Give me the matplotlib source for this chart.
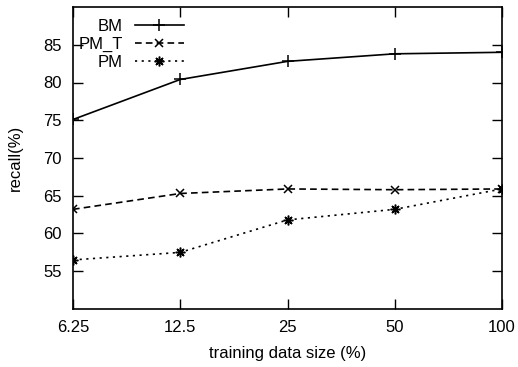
import matplotlib.pyplot as plt

plt.rcParams['font.family'] = ['Liberation Sans', 'DejaVu Sans']

sizes = ['6.25', '12.5', '25', '50', '100']
bm = [75.1, 80.4, 82.8, 83.8, 84.0]
pm_t = [63.2, 65.3, 65.9, 65.8, 65.9]
pm = [56.5, 57.5, 61.8, 63.2, 65.9]

x = list(range(len(sizes)))

fig = plt.figure(figsize=(5.18, 3.67), dpi=100)
ax = fig.add_axes([73 / 518, 1 - 309 / 367, 429 / 518, 302 / 367])

ax.plot(x, bm, color='black', lw=1.2, marker='+', ms=8, mew=1.1, label='BM')
ax.plot(x, pm_t, color='black', lw=1.2, ls=(0, (4, 2.5)), marker='x', ms=6, mew=1.1, label='PM_T')
ax.plot(x, pm, color='black', lw=1.2, ls=(0, (1.3, 2.7)), marker=(8, 2, 0), ms=7, mew=1.1, label='PM')

ax.set_xlim(0, 4)
ax.set_ylim(50, 90)
ax.set_xticks(x)
ax.set_xticklabels(sizes)
ax.set_yticks([55, 60, 65, 70, 75, 80, 85])

ax.tick_params(direction='in', length=7, width=1, top=True, right=True, labelsize=12, pad=8)
for s in ax.spines.values():
    s.set_linewidth(1.2)

ax.set_xlabel('training data size (%)', fontsize=12, labelpad=8)
ax.set_ylabel('recall(%)', fontsize=12, labelpad=15)

leg = ax.legend(loc='upper right', bbox_to_anchor=(0.274, 0.983), frameon=False, markerfirst=False,
                handlelength=2.95, fontsize=12, labelspacing=0.17, borderaxespad=0.1,
                handletextpad=0.7, borderpad=0.3)
for t in leg.get_texts():
    t.set_ha('right')
leg._legend_box.align = 'right'

fig.savefig('out.png', dpi=100)
